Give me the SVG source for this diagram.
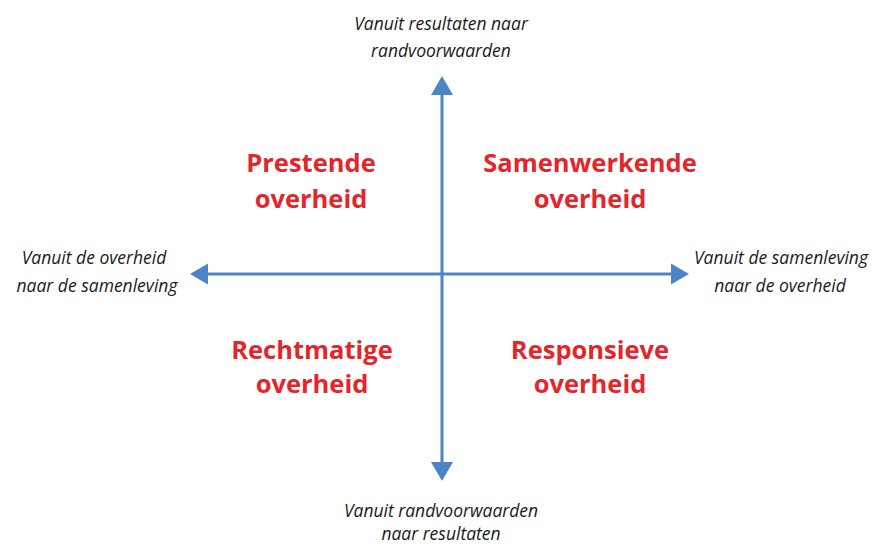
<svg xmlns="http://www.w3.org/2000/svg" width="872" height="545" viewBox="0 0 872 545">
<style>
.ax{stroke:#4a86c6;stroke-width:3;fill:none}
.ah{fill:#4a86c6}
.lbl{font-family:"Open Sans","Liberation Sans",sans-serif;font-style:italic;font-size:17.5px;fill:#1a1a1a;text-anchor:middle}
.q{font-family:"Open Sans","Liberation Sans",sans-serif;font-weight:bold;font-size:25.5px;fill:#e3262b;text-anchor:middle}
</style>
<rect width="872" height="545" fill="#fff"/>
<g id="connectors">
<line class="ax" x1="442" y1="92" x2="442" y2="465"/>
<polygon class="ah" points="442,76 431,95 453,95"/>
<polygon class="ah" points="442,481 431,462 453,462"/>
<line class="ax" x1="205" y1="274" x2="674" y2="274"/>
<polygon class="ah" points="190,274 208,263.5 208,284.5"/>
<polygon class="ah" points="689,274 671,263.5 671,284.5"/>
</g>
<g id="top-label"><text class="lbl" x="441" y="30">Vanuit resultaten naar</text><text class="lbl" x="441" y="57">randvoorwaarden</text></g>
<g id="bottom-label"><text class="lbl" x="441" y="517">Vanuit randvoorwaarden</text><text class="lbl" x="441" y="540">naar resultaten</text></g>
<g id="left-label"><text class="lbl" x="94" y="264">Vanuit de overheid</text><text class="lbl" x="97" y="292">naar de samenleving</text></g>
<g id="right-label"><text class="lbl" x="781" y="264">Vanuit de samenleving</text><text class="lbl" x="780" y="292">naar de overheid</text></g>
<g id="prestende"><text class="q" x="311" y="172">Prestende</text><text class="q" x="311" y="208">overheid</text></g>
<g id="samenwerkende"><text class="q" x="590" y="172">Samenwerkende</text><text class="q" x="590" y="208">overheid</text></g>
<g id="rechtmatige"><text class="q" x="312" y="359">Rechtmatige</text><text class="q" x="312" y="393">overheid</text></g>
<g id="responsieve"><text class="q" x="590" y="359">Responsieve</text><text class="q" x="590" y="393">overheid</text></g>
</svg>
